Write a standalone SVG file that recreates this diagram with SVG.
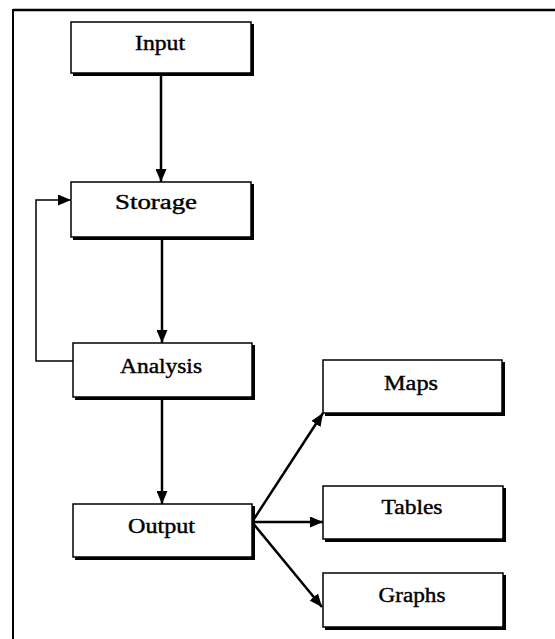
<svg xmlns="http://www.w3.org/2000/svg" width="555" height="639" viewBox="0 0 555 639">
  <style>
    .box { fill: #fff; stroke: #000; stroke-width: 1.5; }
    .shadow { fill: none; stroke: #000; stroke-width: 3; }
    .label { font-family: "Liberation Serif", "Times New Roman", serif; font-size: 20px; fill: #000; stroke: #000; stroke-width: 0.4; text-anchor: middle; }
    .flow { fill: none; stroke: #000; stroke-width: 2.5; }
    .loop { fill: none; stroke: #000; stroke-width: 1.5; }
  </style>
  <defs>
    <marker id="arrow" markerUnits="userSpaceOnUse" markerWidth="13" markerHeight="11" viewBox="0 0 13 11" refX="13" refY="5.5" orient="auto">
      <path d="M0,0 L13,5.5 L0,11 Z" fill="#000"/>
    </marker>
  </defs>
  <rect width="555" height="639" fill="#fff"/>

  <!-- outer frame -->
  <path d="M13,639 V10 H555" fill="none" stroke="#000" stroke-width="2"/>
  <line x1="13" y1="10" x2="555" y2="10" stroke="#000" stroke-width="2.5"/>

  <!-- connectors -->
  <g id="connectors">
    <line class="flow" x1="161" y1="73" x2="161" y2="182" marker-end="url(#arrow)"/>
    <line class="flow" x1="162" y1="238" x2="162" y2="343" marker-end="url(#arrow)"/>
    <line class="flow" x1="162" y1="397" x2="162" y2="504" marker-end="url(#arrow)"/>
    <polyline class="loop" points="73,361 36,361 36,200 71,200" marker-end="url(#arrow)"/>
    <line class="flow" x1="252" y1="522" x2="323" y2="413" marker-end="url(#arrow)"/>
    <line class="flow" x1="252" y1="522" x2="323" y2="522" marker-end="url(#arrow)"/>
    <line class="flow" x1="252" y1="522" x2="322" y2="607" marker-end="url(#arrow)"/>
  </g>

  <g id="input">
    <rect class="box" x="71" y="22" width="180" height="51"/>
    <path class="shadow" d="M73,74.5 H252.5 V24"/>
    <text class="label" x="160" y="50" textLength="50" lengthAdjust="spacingAndGlyphs">Input</text>
  </g>
  <g id="storage">
    <rect class="box" x="71" y="182" width="180" height="55"/>
    <path class="shadow" d="M73,238.5 H252.5 V184"/>
    <text class="label" x="156" y="209" textLength="82" lengthAdjust="spacingAndGlyphs">Storage</text>
  </g>
  <g id="analysis">
    <rect class="box" x="73" y="343" width="179" height="54"/>
    <path class="shadow" d="M75,398.5 H253.5 V345"/>
    <text class="label" x="161" y="373" textLength="82" lengthAdjust="spacingAndGlyphs">Analysis</text>
  </g>
  <g id="output">
    <rect class="box" x="73" y="504" width="179" height="53"/>
    <path class="shadow" d="M75,558.5 H253.5 V506"/>
    <text class="label" x="161.5" y="533" textLength="67" lengthAdjust="spacingAndGlyphs">Output</text>
  </g>
  <g id="maps">
    <rect class="box" x="323" y="360" width="179" height="53"/>
    <path class="shadow" d="M325,414.5 H503.5 V362"/>
    <text class="label" x="411" y="390" textLength="54" lengthAdjust="spacingAndGlyphs">Maps</text>
  </g>
  <g id="tables">
    <rect class="box" x="323" y="486" width="180" height="53"/>
    <path class="shadow" d="M325,540.5 H504.5 V488"/>
    <text class="label" x="412" y="514" textLength="61" lengthAdjust="spacingAndGlyphs">Tables</text>
  </g>
  <g id="graphs">
    <rect class="box" x="323" y="573" width="180" height="54"/>
    <path class="shadow" d="M325,628.5 H504.5 V575"/>
    <text class="label" x="412" y="602" textLength="67" lengthAdjust="spacingAndGlyphs">Graphs</text>
  </g>
</svg>
